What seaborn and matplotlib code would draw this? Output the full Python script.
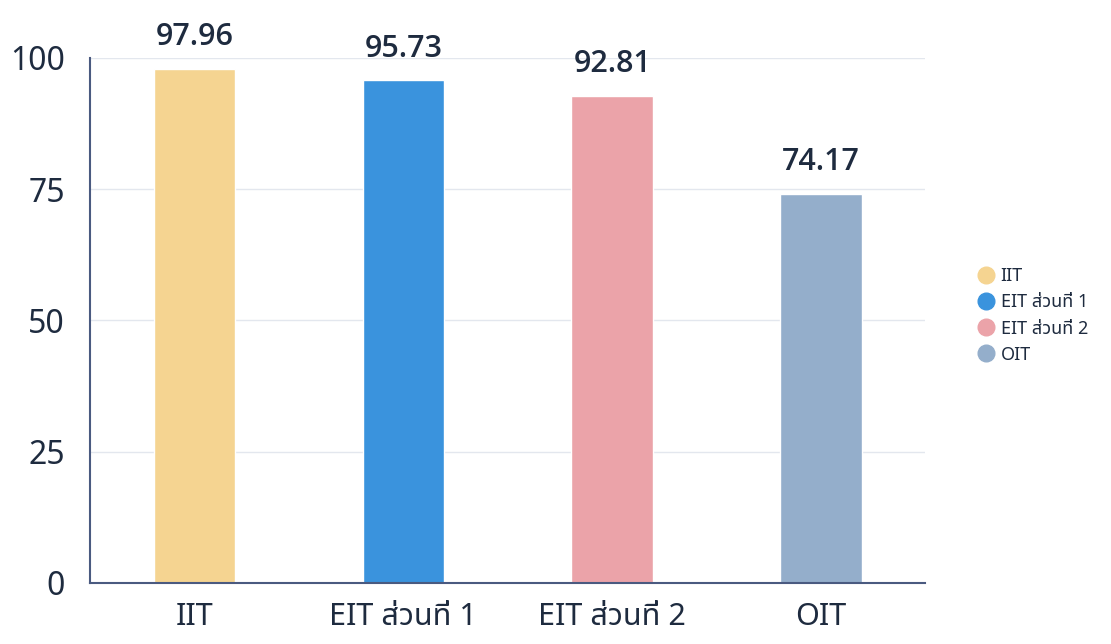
import matplotlib
matplotlib.use("Agg")
import matplotlib.pyplot as plt
from matplotlib.lines import Line2D
import seaborn as sns
import pandas as pd

# ── Data ──────────────────────────────────────────────────────────────────────
categories = ["IIT", "EIT ส่วนที่ 1", "EIT ส่วนที่ 2", "OIT"]
scores     = [97.96, 95.73, 92.81, 74.17]
colors     = ["#F5D491", "#3A93DD", "#EBA3A9", "#94AECB"]
yticks     = [0, 25, 50, 75, 100]

TEXT = "#1E2B3F"

sns.set_theme(style="white")
plt.rcParams["font.family"] = ["Noto Sans", "Noto Sans Thai", "DejaVu Sans"]

df = pd.DataFrame({"cat": categories, "score": scores})

fig = plt.figure(figsize=(11.11, 6.44), dpi=100)
ax = fig.add_axes([0.081, 0.095, 0.752, 0.815])

sns.barplot(data=df, x="cat", y="score", hue="cat", palette=colors,
            width=0.39, legend=False, ax=ax, saturation=1)

# value labels above bars (bold digits)
for cont in ax.containers:
    ax.bar_label(cont, fmt="%.2f", padding=12, fontsize=22,
                 fontweight="semibold", family=["Open Sans", "DejaVu Sans"],
                 color=TEXT)

ax.set_ylim(0, 100)
ax.set_xlim(-0.5, 3.5)
ax.set_yticks(yticks)
ax.yaxis.grid(True, color="#E3E7EE", linewidth=1)
ax.set_axisbelow(True)
ax.set_xlabel("")
ax.set_ylabel("")
ax.tick_params(axis="y", labelsize=23, colors=TEXT, length=0, pad=18)
ax.tick_params(axis="x", labelsize=22, colors=TEXT, length=0, pad=14)

for s in ["top", "right"]:
    ax.spines[s].set_visible(False)
for s in ["left", "bottom"]:
    ax.spines[s].set_color("#4A5A80")
    ax.spines[s].set_linewidth(1.5)

handles = [Line2D([0], [0], marker="o", linestyle="", markersize=12,
                  markerfacecolor=c, markeredgecolor=c, label=l)
           for c, l in zip(colors, categories)]
fig.legend(handles=handles, loc="center left", bbox_to_anchor=(0.865, 0.51),
           frameon=False, fontsize=13, labelcolor=TEXT, handletextpad=0.3,
           labelspacing=0.45, handlelength=1.0)

fig.savefig("out.png", dpi=100)
